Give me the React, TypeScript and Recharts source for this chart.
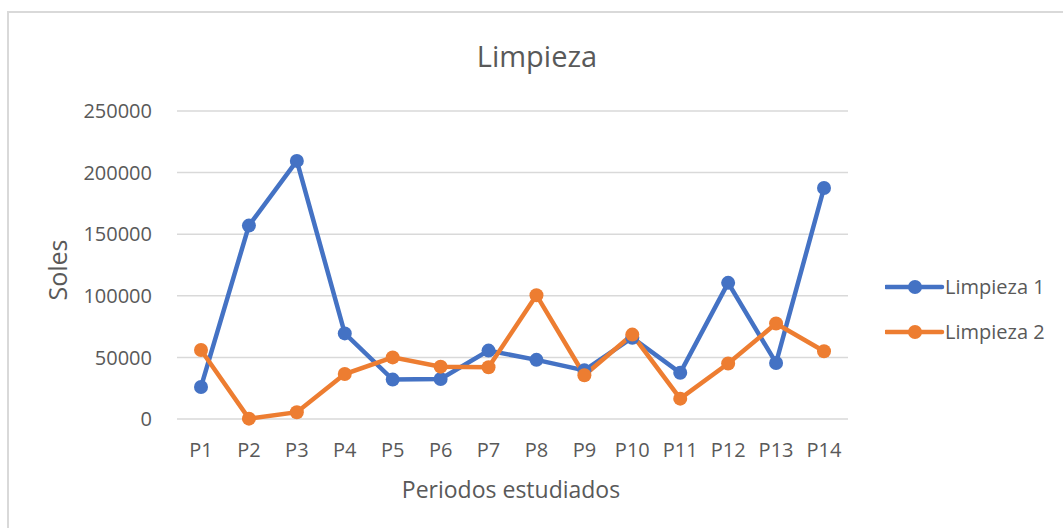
import React from 'react';
import { LineChart, Line, XAxis, YAxis, CartesianGrid, Legend } from 'recharts';

const categories = ['P1', 'P2', 'P3', 'P4', 'P5', 'P6', 'P7', 'P8', 'P9', 'P10', 'P11', 'P12', 'P13', 'P14'];
const limpieza1 = [26000, 157000, 209500, 69500, 32000, 32500, 55500, 48000, 39500, 66000, 37500, 110500, 45500, 187500];
const limpieza2 = [56000, 300, 5500, 36500, 50000, 42500, 42000, 100500, 35500, 68500, 16500, 45000, 77500, 55000];
const yTicks = [0, 50000, 100000, 150000, 200000, 250000];
const seriesNames = ['Limpieza 1', 'Limpieza 2'];
const seriesColors = ['#4472C4', '#ED7D31'];

const data = categories.map((c, i) => ({ name: c, l1: limpieza1[i], l2: limpieza2[i] }));

const FONT = '"Open Sans", "DejaVu Sans", sans-serif';
const TEXT = '#595959';

const LegendContent = () => (
  <div style={{ fontFamily: FONT }}>
    {seriesNames.map((n, i) => (
      <div key={n} style={{ display: 'flex', alignItems: 'center', height: 45 }}>
        <svg width={60} height={16} style={{ display: 'block' }}>
          <line x1={1} y1={8} x2={57} y2={8} stroke={seriesColors[i]} strokeWidth={4.5} strokeLinecap="round" />
          <circle cx={30} cy={8} r={7} fill={seriesColors[i]} />
        </svg>
        <span style={{ fontSize: 20, color: TEXT, lineHeight: '20px', whiteSpace: 'nowrap' }}>{n}</span>
      </div>
    ))}
  </div>
);

export default function App() {
  return (
    <div style={{ position: 'fixed', left: 0, top: 0, width: 1063, height: 528, overflow: 'hidden', background: '#fff' }}>
      <div
        style={{
          position: 'absolute',
          left: 7,
          top: 11,
          width: 1200,
          height: 700,
          border: '2px solid #d9d9d9',
          boxSizing: 'border-box',
        }}
      />
      <div style={{ position: 'absolute', left: 0, top: 0 }}>
        <LineChart width={1063} height={528} data={data} margin={{ top: 111, right: 215, left: 0, bottom: 49 }}>
          <CartesianGrid vertical={false} stroke="#d9d9d9" strokeWidth={1.5} />
          <XAxis
            dataKey="name"
            axisLine={false}
            tickLine={false}
            tickSize={0}
            tickMargin={24}
            height={60}
            padding={{ left: 24, right: 24 }}
            interval={0}
            tick={{ fill: TEXT, fontSize: 20, fontFamily: FONT }}
          />
          <YAxis
            width={177}
            domain={[0, 250000]}
            ticks={yTicks}
            axisLine={false}
            tickLine={false}
            tickSize={0}
            tickMargin={25}
            tick={{ fill: TEXT, fontSize: 20, fontFamily: FONT }}
          />
          <Legend
            layout="vertical"
            align="center"
            verticalAlign="middle"
            wrapperStyle={{ left: 885, top: 264, width: 178 }}
            content={<LegendContent />}
          />
          <Line
            dataKey="l1"
            name={seriesNames[0]}
            stroke={seriesColors[0]}
            strokeWidth={4.5}
            dot={{ r: 7, fill: seriesColors[0], stroke: 'none' }}
            isAnimationActive={false}
          />
          <Line
            dataKey="l2"
            name={seriesNames[1]}
            stroke={seriesColors[1]}
            strokeWidth={4.5}
            dot={{ r: 7, fill: seriesColors[1], stroke: 'none' }}
            isAnimationActive={false}
          />
        </LineChart>
      </div>
      <svg width={1063} height={528} style={{ position: 'absolute', left: 0, top: 0, pointerEvents: 'none' }}>
        <text x={537} y={67} textAnchor="middle" fontFamily={FONT} fontSize={29} fill={TEXT}>
          Limpieza
        </text>
        <text transform="translate(67,270) rotate(-90)" textAnchor="middle" fontFamily={FONT} fontSize={25} fill={TEXT}>
          Soles
        </text>
        <text x={511} y={498} textAnchor="middle" fontFamily={FONT} fontSize={23} fill={TEXT}>
          Periodos estudiados
        </text>
      </svg>
    </div>
  );
}
